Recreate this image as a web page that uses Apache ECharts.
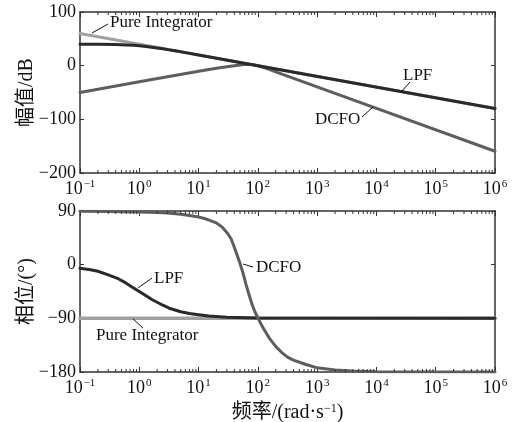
<!DOCTYPE html>
<html>
<head>
<meta charset="utf-8">
<script src="https://cdn.jsdelivr.net/npm/echarts@6/dist/echarts.min.js"></script>
<style>html,body{margin:0;padding:0;background:#fff}#c{width:512px;height:422px}</style>
</head>
<body>
<div id="c"></div>
<script>
// ---- data ----
const xTickExps = ['−1', '0', '1', '2', '3', '4', '5', '6'];
const magTickLabels = ['−200', '−100', '0', '100'];
const phaseTickLabels = ['−180', '−90', '0', '90'];

// magnitude (dB)
const intMagFreq = [0.1, 1e6];
const intMag = [60, -80];
const lpfMagFreq = [0.1, 0.2, 0.4, 0.6, 0.8, 1, 1.3, 1.6, 2, 2.5, 3.2, 4, 6, 10, 100, 1e6];
const lpfMag = [40, 39.8, 39.4, 38.7, 37.9, 37, 35.8, 34.5, 33, 31.4, 29.4, 27.7, 24.3, 20, 0, -80];
const dcfoMagFreq = [0.1, 1, 10, 20, 30, 40, 50, 60, 70, 80, 95, 110, 130, 160, 200, 316, 1000, 1e6];
const dcfoMag = [-50, -30, -10.5, -5, -2, 0, 1.3, 2, 2.2, 2, 0.5, -1.5, -4, -7.5, -11.5, -19.5, -39.5, -159.5];

// phase (deg)
const intPhFreq = [0.1, 1e6];
const intPh = [-90, -90];
const lpfPhFreq = [0.1, 0.15, 0.2, 0.3, 0.45, 0.6, 0.8, 1, 1.3, 1.6, 2, 2.5, 3.2, 4, 5, 7, 10, 15, 30, 100, 1e6];
const lpfPh = [-6, -8.5, -11, -17, -24, -31, -39, -45, -52, -58, -63, -68, -73, -76, -79, -82, -84, -86, -88, -89.5, -90];
const dcfoPhFreq = [0.1, 0.3, 1, 2, 3, 5, 7, 10, 13, 15.8, 20, 25.1, 31.6, 35.5, 39.8, 44.7, 50.1, 56.2, 63.1, 70.8, 79.4, 89.1,
  100, 112, 126, 158, 200, 251, 316, 398, 631, 1000, 1995, 3981, 1e4, 1e6];
const dcfoPh = [89.5, 89.2, 88.5, 87.5, 86.5, 84.5, 82.5, 80, 77, 74, 70, 63, 51, 43, 30, 16, 2, -14, -33, -50, -66, -79,
  -89, -99, -108, -124, -137, -147, -155, -160, -167, -173, -176.5, -178.3, -179.5, -180];

// ---- styling ----
const SERIF = "'Liberation Serif', 'Times New Roman', 'Noto Sans CJK SC', serif";
const AX = '#333';
const C_LPF = '#2a2a2a', C_DCFO = '#5e5e5e', C_INT = '#a0a0a0';

function pairs(xs, ys) { return xs.map((x, i) => [x, ys[i]]); }

// minor tick positions of the log axis (k * 10^e, k = 2..9)
const minorFreqs = [];
for (let e = -1; e < 6; e++) {
  for (let k = 2; k <= 9; k++) minorFreqs.push([k * Math.pow(10, e)]);
}

function xMajor(grid, position, withLabels, name) {
  const a = {
    type: 'log', logBase: 10, gridIndex: grid, position: position,
    min: 0.1, max: 1e6, interval: 1,
    axisLine: { show: true, onZero: false, lineStyle: { color: AX, width: 1.5 } },
    splitLine: { show: false },
    axisTick: { show: true, inside: true, length: 5, lineStyle: { color: AX, width: 1 } },
    axisLabel: { show: false }
  };
  if (withLabels) {
    a.axisLabel = {
      show: true, margin: 6, color: '#111',
      formatter: function (v) {
        const idx = Math.round(Math.log10(v)) + 1;
        return '{b|10}{s|' + xTickExps[idx] + '}';
      },
      rich: {
        b: { fontFamily: SERIF, fontSize: 18, lineHeight: 20, color: '#111' },
        s: { fontFamily: SERIF, fontSize: 11, lineHeight: 11, verticalAlign: 'top', color: '#111', padding: [0, 0, 0, 1] }
      }
    };
  }
  if (name) {
    a.name = name; a.nameLocation = 'middle'; a.nameGap = 31; a.nameMoveOverlap = false;
    a.nameTextStyle = {
      fontFamily: SERIF, fontSize: 20, color: '#111',
      rich: { s: { fontFamily: SERIF, fontSize: 12, lineHeight: 12, verticalAlign: 'top', color: '#111' } }
    };
  }
  return a;
}

function yAxisDef(grid, position, min, max, interval, labels, name) {
  const a = {
    type: 'value', gridIndex: grid, position: position, min: min, max: max, interval: interval,
    axisLine: { show: true, onZero: false, lineStyle: { color: AX, width: 1.5 } },
    splitLine: { show: false },
    axisTick: { show: true, inside: true, length: 4, lineStyle: { color: AX, width: 1 } },
    axisLabel: { show: false }
  };
  if (labels) {
    a.axisLabel = {
      show: true, margin: 4, color: '#111', fontFamily: SERIF, fontSize: 18,
      formatter: function (v) { return labels[Math.round((v - min) / interval)]; }
    };
  }
  if (name) {
    a.name = name; a.nameLocation = 'middle'; a.nameGap = 43; a.nameRotate = 90; a.nameMoveOverlap = false;
    a.nameTextStyle = { fontFamily: SERIF, fontSize: 20, color: '#111' };
  }
  return a;
}

function lineSeries(name, xi, yi, data, color, width, z) {
  return {
    name: name, type: 'line', xAxisIndex: xi, yAxisIndex: yi, data: data,
    showSymbol: false, symbol: 'none', smooth: false,
    lineStyle: { color: color, width: width, join: 'round', cap: 'round' }, z: z, silent: true, animation: false
  };
}

// minor ticks along the bottom and top edges, placed through the log axis scale
function minorTickSeries(xi, yi) {
  return {
    type: 'custom', xAxisIndex: xi, yAxisIndex: yi, data: minorFreqs, silent: true, z: 10,
    clip: false, animation: false,
    renderItem: function (params, api) {
      const cs = params.coordSys;
      const px = api.coord([api.value(0), 0])[0];
      const yb = cs.y + cs.height, yt = cs.y;
      return {
        type: 'group',
        children: [
          { type: 'line', shape: { x1: px, y1: yb, x2: px, y2: yb - 3 }, style: { stroke: AX, lineWidth: 1 } },
          { type: 'line', shape: { x1: px, y1: yt, x2: px, y2: yt + 3 }, style: { stroke: AX, lineWidth: 1 } }
        ]
      };
    }
  };
}

const chart = echarts.init(document.getElementById('c'), null, { renderer: 'canvas' });

function txt(x, y, s) {
  return { type: 'text', x: x, y: y, style: { text: s, fontFamily: SERIF, fontSize: 17, fill: '#111', verticalAlign: 'middle', align: 'left' }, z: 100 };
}
function lead(x1, y1, x2, y2) {
  return { type: 'line', shape: { x1: x1, y1: y1, x2: x2, y2: y2 }, style: { stroke: '#111', lineWidth: 1 }, z: 100 };
}

chart.setOption({
  animation: false,
  backgroundColor: '#fff',
  grid: [
    { left: 80, top: 12, width: 415, height: 161, containLabel: false, outerBoundsMode: 'none' },
    { left: 80, top: 211, width: 415, height: 161, containLabel: false, outerBoundsMode: 'none' }
  ],
  xAxis: [
    xMajor(0, 'bottom', true),
    xMajor(0, 'top', false),
    xMajor(1, 'bottom', true, '频率/(rad·s{s|−1})'),
    xMajor(1, 'top', false)
  ],
  yAxis: [
    yAxisDef(0, 'left', -200, 100, 100, magTickLabels, '幅值/dB'),
    yAxisDef(0, 'right', -200, 100, 100, null),
    yAxisDef(1, 'left', -180, 90, 90, phaseTickLabels, '相位/(°)'),
    yAxisDef(1, 'right', -180, 90, 90, null)
  ],
  series: [
    minorTickSeries(0, 0),
    minorTickSeries(2, 2),
    lineSeries('Pure Integrator', 0, 0, pairs(intMagFreq, intMag), C_INT, 3, 2),
    lineSeries('DCFO', 0, 0, pairs(dcfoMagFreq, dcfoMag), C_DCFO, 3, 3),
    lineSeries('LPF', 0, 0, pairs(lpfMagFreq, lpfMag), C_LPF, 3, 4),
    lineSeries('Pure Integrator', 2, 2, pairs(intPhFreq, intPh), C_INT, 3.5, 2),
    lineSeries('LPF', 2, 2, pairs(lpfPhFreq, lpfPh), C_LPF, 3, 3),
    lineSeries('DCFO', 2, 2, pairs(dcfoPhFreq, dcfoPh), C_DCFO, 3, 4)
  ],
  graphic: [
    txt(110, 23, 'Pure Integrator'), lead(92, 33, 108, 24),
    txt(403, 76, 'LPF'), lead(401, 92, 410, 82),
    txt(315, 120, 'DCFO'), lead(362, 117, 373, 107),
    txt(256, 268, 'DCFO'), lead(243, 264, 253, 267),
    txt(154, 279, 'LPF'), lead(138, 288, 152, 278),
    txt(96, 336, 'Pure Integrator'), lead(133, 319, 143, 328)
  ]
});
</script>
</body>
</html>
